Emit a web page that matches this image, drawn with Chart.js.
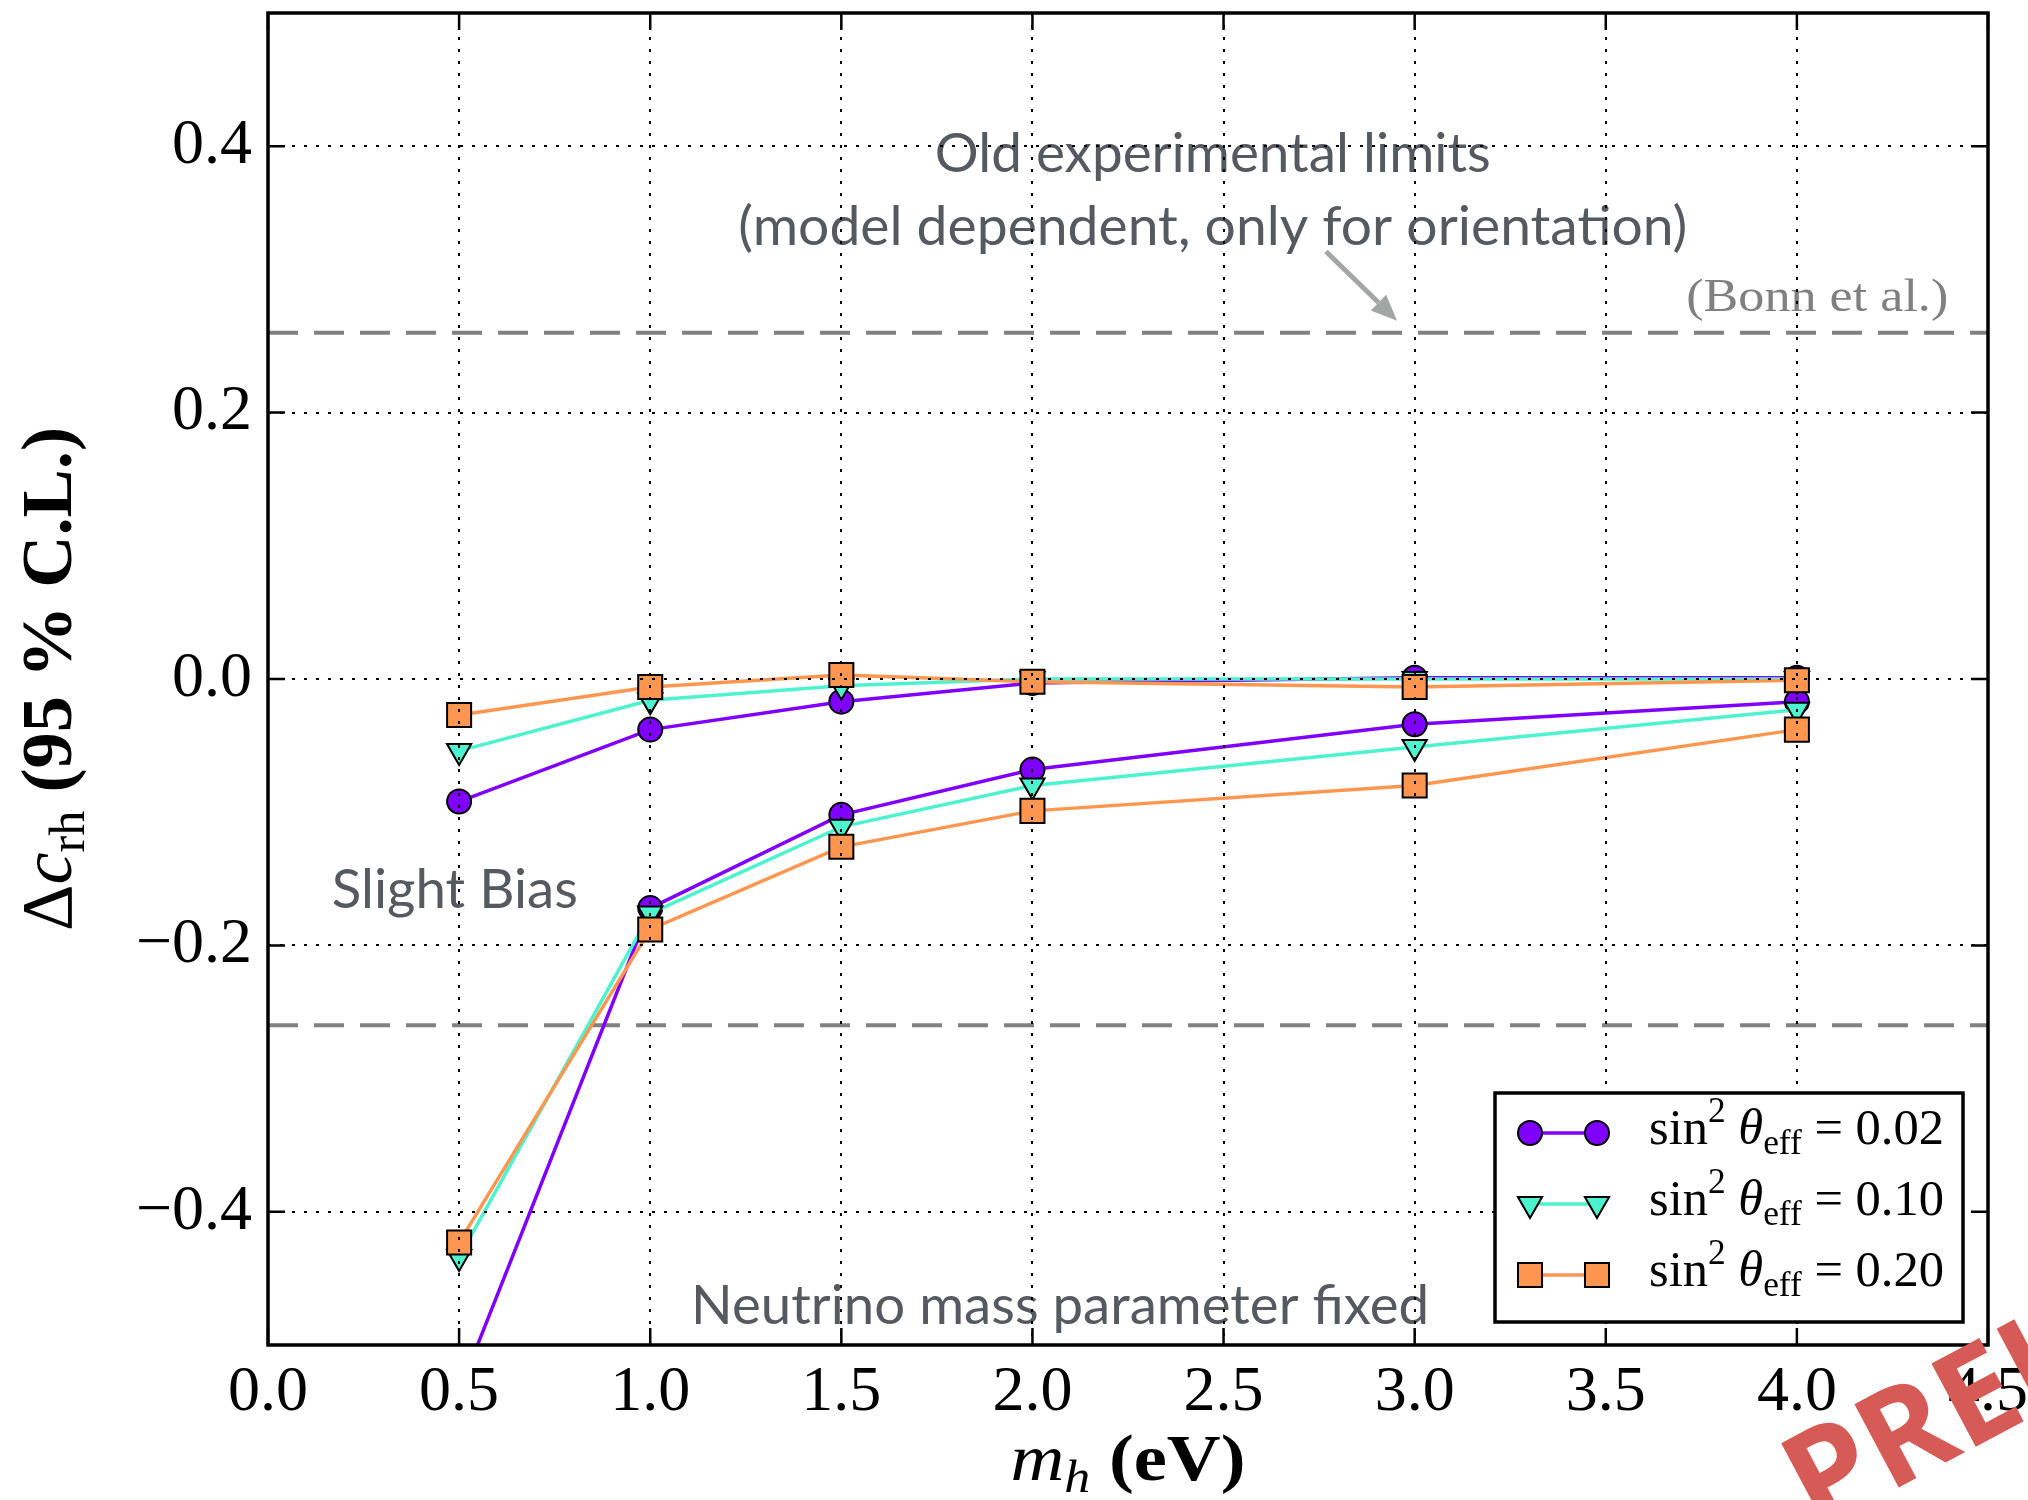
<!DOCTYPE html>
<html>
<head>
<meta charset="utf-8">
<title>Δc_rh vs m_h</title>
<script src="https://cdn.jsdelivr.net/npm/chart.js@4.4.0/dist/chart.umd.min.js"></script>
<style>
  html, body { margin: 0; padding: 0; background: #fff; }
  canvas { display: block; }
</style>
</head>
<body>
<canvas id="chart" width="2028" height="1500"></canvas>
<script>
/* ==================== 数据 ==================== */
// 横轴：m_h (eV)
const massX = [0.5, 1.0, 1.5, 2.0, 3.0, 4.0];

// sin^2 θ_eff = 0.02 / 0.10 / 0.20，上下两支
const upper002 = [-0.092, -0.038, -0.017, -0.003, 0.001, 0.001];
const lower002 = [-0.535, -0.172, -0.102, -0.068, -0.034, -0.017];
const upper010 = [-0.054, -0.016, -0.005, 0.000, 0.000, 0.000];
const lower010 = [-0.434, -0.176, -0.111, -0.080, -0.051, -0.023];
const upper020 = [-0.027, -0.006, 0.003, -0.002, -0.006, -0.001];
const lower020 = [-0.423, -0.188, -0.126, -0.099, -0.080, -0.038];

const seriesLabels = ['0.02', '0.10', '0.20'];

// 旧实验限制 (Bonn et al.)
const limitLevel = 0.26;

// 坐标轴
const xMin = 0, xMax = 4.5, yMin = -0.5, yMax = 0.5;
const xTicks = [0, 0.5, 1.0, 1.5, 2.0, 2.5, 3.0, 3.5, 4.0, 4.5];
const xTickLabels = ['0.0', '0.5', '1.0', '1.5', '2.0', '2.5', '3.0', '3.5', '4.0', '4.5'];
const yTicks = [-0.4, -0.2, 0.0, 0.2, 0.4];
const yTickLabels = ['\u22120.4', '\u22120.2', '0.0', '0.2', '0.4'];

/* ==================== 样式 ==================== */
const SERIF = '"Liberation Serif", "DejaVu Serif", serif';
const SANS = 'Lato, "Open Sans", sans-serif';
const NOTE_COLOR = '#555a61';

const styles = [
  { color: '#8000ff', pointStyle: 'circle',   radius: 12, rotation: 0,   order: 3 },
  { color: '#4df3ce', pointStyle: 'triangle', radius: 14, rotation: 180, order: 2 },
  { color: '#ff964f', pointStyle: 'rect',     radius: 17, rotation: 0,   order: 1 }
];
const branches = [[upper002, lower002], [upper010, lower010], [upper020, lower020]];

const toPoints = ys => massX.map((x, i) => ({ x: x, y: ys[i] }));

const datasets = [];
branches.forEach((pair, s) => {
  const st = styles[s];
  pair.forEach((ys, b) => {
    datasets.push({
      label: b === 0 ? seriesLabels[s] : '',
      data: toPoints(ys),
      borderColor: st.color,
      backgroundColor: st.color,
      borderWidth: 3.5,
      pointStyle: st.pointStyle,
      pointRotation: st.rotation,
      pointRadius: st.radius,
      pointBackgroundColor: st.color,
      pointBorderColor: '#000',
      pointBorderWidth: 2,
      tension: 0,
      clip: 0,
      order: st.order
    });
  });
});

// 虚线：±0.26
[limitLevel, -limitLevel].forEach(v => {
  datasets.push({
    label: '',
    data: [{ x: xMin, y: v }, { x: xMax, y: v }],
    borderColor: '#808080',
    borderWidth: 4,
    borderDash: [30, 16],
    pointRadius: 0,
    clip: 0,
    order: 4
  });
});

/* ==================== 注释 ==================== */
const notes = [
  { text: 'Old experimental limits', x: 2.472, y: 0.381, align: 'center', width: 556 },
  { text: '(model dependent, only for orientation)', x: 2.472, y: 0.326, align: 'center', width: 949 },
  { text: 'Slight Bias', x: 0.167, y: -0.172, align: 'left', width: 246 },
  { text: 'Neutrino mass parameter fixed', x: 1.107, y: -0.484, align: 'left', width: 738 }
];
const arrowFrom = { x: 2.768, y: 0.321 };
const arrowTo = { x: 2.954, y: 0.269 };

// 依次绘制若干文字片段（上标/下标），可按目标宽度水平拉伸
function drawRuns(ctx, runs, x, y, align, targetWidth) {
  let total = 0;
  const widths = runs.map(r => {
    ctx.font = r.font;
    const w = ctx.measureText(r.text).width;
    total += w;
    return w;
  });
  const sx = targetWidth ? targetWidth / total : 1;
  ctx.save();
  ctx.translate(x, y);
  ctx.scale(sx, 1);
  ctx.textBaseline = 'alphabetic';
  ctx.textAlign = 'left';
  let cx = align === 'center' ? -total / 2 : (align === 'right' ? -total : 0);
  runs.forEach((r, i) => {
    ctx.font = r.font;
    ctx.fillText(r.text, cx, r.dy || 0);
    cx += widths[i];
  });
  ctx.restore();
}

const decorPlugin = {
  id: 'decor',
  // 注释文字在网格线之下
  beforeDatasetsDraw(chart) {
    const ctx = chart.ctx;
    const xs = chart.scales.x, ys = chart.scales.y;
    ctx.save();
    ctx.fillStyle = NOTE_COLOR;
    notes.forEach(n => {
      drawRuns(ctx, [{ text: n.text, font: '54px ' + SANS }],
        xs.getPixelForValue(n.x), ys.getPixelForValue(n.y), n.align, n.width);
    });

    // (Bonn et al.)
    ctx.fillStyle = '#808080';
    drawRuns(ctx, [{ text: '(Bonn et al.)', font: '46px ' + SERIF }],
      xs.getPixelForValue(4.396), ys.getPixelForValue(0.2763), 'right', 262);

    // 箭头
    const x1 = xs.getPixelForValue(arrowFrom.x), y1 = ys.getPixelForValue(arrowFrom.y);
    const x2 = xs.getPixelForValue(arrowTo.x), y2 = ys.getPixelForValue(arrowTo.y);
    const ang = Math.atan2(y2 - y1, x2 - x1);
    const head = 26, half = 11;
    const bx = x2 - head * Math.cos(ang), by = y2 - head * Math.sin(ang);
    ctx.strokeStyle = '#a2a6a5';
    ctx.fillStyle = '#a2a6a5';
    ctx.lineWidth = 5;
    ctx.beginPath();
    ctx.moveTo(x1, y1);
    ctx.lineTo(bx, by);
    ctx.stroke();
    ctx.beginPath();
    ctx.moveTo(x2, y2);
    ctx.lineTo(bx + half * Math.sin(ang), by - half * Math.cos(ang));
    ctx.lineTo(bx - half * Math.sin(ang), by + half * Math.cos(ang));
    ctx.closePath();
    ctx.fill();
    ctx.restore();
  },

  afterDraw(chart) {
    const ctx = chart.ctx;
    const a = chart.chartArea;
    const xs = chart.scales.x, ys = chart.scales.y;
    ctx.save();

    /* ---- 边框与内向刻度 ---- */
    ctx.strokeStyle = '#000';
    ctx.lineWidth = 2.5;
    const tl = 17;
    ctx.beginPath();
    xs.ticks.forEach(t => {
      const px = xs.getPixelForValue(t.value);
      ctx.moveTo(px, a.bottom); ctx.lineTo(px, a.bottom - tl);
      ctx.moveTo(px, a.top); ctx.lineTo(px, a.top + tl);
    });
    ys.ticks.forEach(t => {
      const py = ys.getPixelForValue(t.value);
      ctx.moveTo(a.left, py); ctx.lineTo(a.left + tl, py);
      ctx.moveTo(a.right, py); ctx.lineTo(a.right - tl, py);
    });
    ctx.stroke();
    ctx.lineWidth = 3.5;
    ctx.strokeRect(a.left, a.top, a.right - a.left, a.bottom - a.top);

    /* ---- 坐标轴标题 ---- */
    ctx.fillStyle = '#000';
    drawRuns(ctx, [
      { text: 'm', font: 'italic 66px ' + SERIF },
      { text: 'h', font: 'italic 46px ' + SERIF, dy: 12 },
      { text: ' (eV)', font: 'bold 66px ' + SERIF }
    ], (a.left + a.right) / 2, 1480, 'center', 235);

    ctx.save();
    ctx.translate(71, (a.top + a.bottom) / 2);
    ctx.rotate(-Math.PI / 2);
    drawRuns(ctx, [
      { text: '\u0394', font: '72px ' + SERIF },
      { text: 'c', font: 'italic 72px ' + SERIF },
      { text: 'rh', font: '50px ' + SERIF, dy: 13 },
      { text: ' (95 % C.L.)', font: 'bold 72px ' + SERIF }
    ], 0, 0, 'center', 504);
    ctx.restore();

    /* ---- 图例 ---- */
    const box = { left: a.right - 493, right: a.right - 25, top: a.bottom - 252, bottom: a.bottom - 23 };
    ctx.fillStyle = '#fff';
    ctx.fillRect(box.left, box.top, box.right - box.left, box.bottom - box.top);
    ctx.strokeStyle = '#000';
    ctx.lineWidth = 3.5;
    ctx.strokeRect(box.left, box.top, box.right - box.left, box.bottom - box.top);

    const rowY = [a.bottom - 212, a.bottom - 141, a.bottom - 70];
    const mx1 = box.left + 35, mx2 = box.left + 102, tx = box.left + 154;
    styles.forEach((st, s) => {
      const y = rowY[s];
      ctx.strokeStyle = st.color;
      ctx.lineWidth = 3.5;
      ctx.beginPath();
      ctx.moveTo(mx1, y); ctx.lineTo(mx2, y);
      ctx.stroke();
      ctx.fillStyle = st.color;
      ctx.strokeStyle = '#000';
      ctx.lineWidth = 2;
      [mx1, mx2].forEach(mx => {
        Chart.helpers.drawPoint(ctx, {
          pointStyle: st.pointStyle, rotation: st.rotation, radius: st.radius, borderWidth: 2
        }, mx, y);
      });
      ctx.fillStyle = '#000';
      drawRuns(ctx, [
        { text: 'sin', font: '50px ' + SERIF },
        { text: '2', font: '35px ' + SERIF, dy: -22 },
        { text: ' ', font: '50px ' + SERIF },
        { text: '\u03b8', font: 'italic 50px ' + SERIF },
        { text: 'eff', font: '35px ' + SERIF, dy: 10 },
        { text: ' = ' + seriesLabels[s], font: '50px ' + SERIF }
      ], tx, y + 11, 'left', 295);
    });

    /* ---- 水印 ---- */
    ctx.save();
    ctx.translate(1815, 1532);
    ctx.rotate(-28 * Math.PI / 180);
    ctx.fillStyle = '#d65a55';
    ctx.font = 'bold 132px "Open Sans", "Liberation Sans", sans-serif';
    ctx.fillText('PRELIMINARY', 0, 0);
    ctx.restore();

    ctx.restore();
  }
};

/* ==================== 创建图表 ==================== */
new Chart(document.getElementById('chart'), {
  type: 'line',
  data: { datasets: datasets },
  plugins: [decorPlugin],
  options: {
    responsive: false,
    devicePixelRatio: 1,
    animation: false,
    layout: { autoPadding: false, padding: { left: 0, right: 40, top: 13, bottom: 0 } },
    plugins: {
      legend: { display: false },
      tooltip: { enabled: false }
    },
    scales: {
      x: {
        type: 'linear',
        min: xMin,
        max: xMax,
        afterBuildTicks: s => { s.ticks = xTicks.map(v => ({ value: v })); },
        afterFit: s => { s.height = 155; s.paddingLeft = 0; s.paddingRight = 0; },
        grid: { color: '#000', lineWidth: 2, drawTicks: false, z: 1 },
        border: { display: false, dash: [3, 9] },
        ticks: {
          padding: 10,
          color: '#000',
          maxRotation: 0,
          autoSkip: false,
          font: { family: SERIF, size: 64 },
          callback: (v, i) => xTickLabels[i]
        }
      },
      y: {
        type: 'linear',
        min: yMin,
        max: yMax,
        afterBuildTicks: s => { s.ticks = yTicks.map(v => ({ value: v })); },
        afterFit: s => { s.width = 268; s.paddingTop = 0; s.paddingBottom = 0; },
        grid: { color: '#000', lineWidth: 2, drawTicks: false, z: 1 },
        border: { display: false, dash: [3, 9] },
        ticks: {
          padding: 16,
          color: '#000',
          autoSkip: false,
          font: { family: SERIF, size: 64 },
          callback: (v, i) => yTickLabels[i]
        }
      }
    }
  }
});
</script>
</body>
</html>
